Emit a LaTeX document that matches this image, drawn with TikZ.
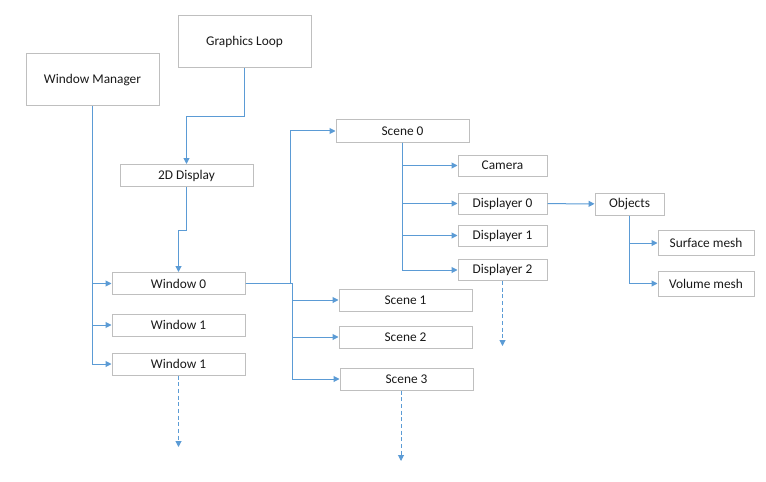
\documentclass[tikz,border=0pt]{standalone}
\usepackage{fontspec}
\setmainfont{Carlito}
\usetikzlibrary{arrows.meta}
\definecolor{linkblue}{HTML}{5B9BD5}
\definecolor{boxgray}{HTML}{BFBFBF}
\begin{document}
\begin{tikzpicture}[x=0.75pt, y=-0.75pt,
  box/.style={draw=boxgray, line width=0.75pt, inner sep=0pt, text=black!90,
    minimum width=99.75pt, minimum height=16.5pt},
  bigbox/.style={box, minimum height=39pt},
  smallbox/.style={box, minimum width=66.75pt, minimum height=15.75pt},
  objbox/.style={box, minimum width=51.75pt},
  meshbox/.style={box, minimum width=72pt, minimum height=18.75pt},
  link/.style={draw=linkblue, line width=0.75pt, -{Triangle[length=4.5pt,width=4.5pt]}},
  dashlink/.style={link, dash pattern=on 3pt off 2pt}]
\useasboundingbox (0, 0) rectangle (766, 481);

\draw (92.5, 80) node[bigbox] (wm) {Window Manager};
\draw (244.5, 42) node[bigbox] (gl) {Graphics Loop};
\draw (186.5, 175.5) node[box] (disp) {2D Display};
\draw (178.5, 283.5) node[box] (w0) {Window 0};
\draw (178.5, 325) node[box] (w1) {Window 1};
\draw (178.5, 364) node[box] (w2) {Window 1};
\draw (402.5, 131) node[box] (s0) {Scene 0};
\draw (405.5, 300) node[box] (s1) {Scene 1};
\draw (405.5, 337) node[box] (s2) {Scene 2};
\draw (406.5, 379) node[box] (s3) {Scene 3};
\draw (502.5, 165.5) node[smallbox] (cam) {Camera};
\draw (502.5, 203.5) node[smallbox] (d0) {Displayer 0};
\draw (502.5, 235.5) node[smallbox] (d1) {Displayer 1};
\draw (502.5, 270) node[smallbox] (d2) {Displayer 2};
\draw (629.5, 204) node[objbox] (obj) {Objects};
\draw (706, 243) node[meshbox] (surf) {Surface mesh};
\draw (706, 283.5) node[meshbox] (vol) {Volume mesh};
\coordinate (w2end) at (178.5, 447);
\coordinate (s3end) at (401, 461);
\coordinate (d2end) at (502.5, 346);

\draw[link] (wm) |- (w0);
\draw[link] (wm) |- (w1);
\draw[link] (wm) |- (w2);
\draw[link] (gl.south) -- ++(0, 48) -| (disp);
\draw[link] (disp.south) -- ++(0, 43) -| (w0);
\draw[link] (w0.east) -- ++(45, 0) |- (s0);
\draw[link] (w0.east) -- ++(47, 0) |- (s1);
\draw[link] (w0.east) -- ++(47, 0) |- (s2);
\draw[link] (w0.east) -- ++(47, 0) |- (s3);
\draw[link] (s0) |- (cam);
\draw[link] (s0) |- (d0);
\draw[link] (s0) |- (d1);
\draw[link] (s0) |- (d2);
\draw[link] (d0) -- (obj);
\draw[link] (obj) |- (surf);
\draw[link] (obj) |- (vol);
\draw[dashlink] (w2) -- (w2end);
\draw[dashlink] (s3end |- s3.south) -- (s3end);
\draw[dashlink] (d2) -- (d2end);

\end{tikzpicture}
\end{document}
